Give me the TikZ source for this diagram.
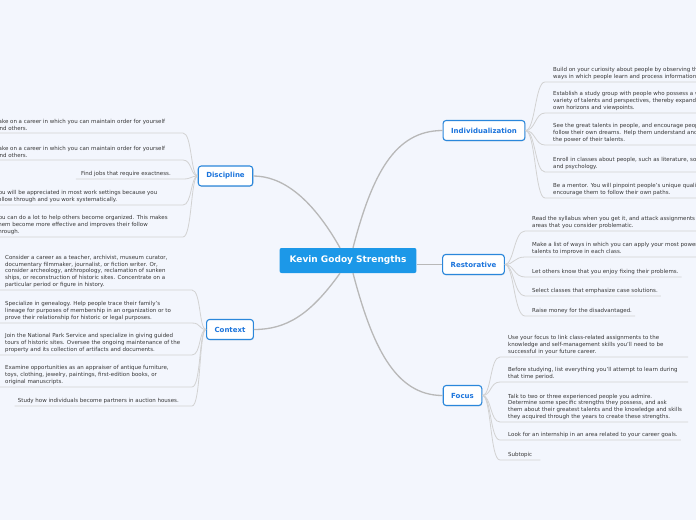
\documentclass[tikz,border=0pt]{standalone}
\usepackage{fontspec}
\setmainfont{DejaVu Sans}
\usetikzlibrary{shadows,calc}
\definecolor{bg}{HTML}{F3F6FD}
\definecolor{hub}{HTML}{1C98E8}
\definecolor{topicblue}{HTML}{2A87DB}
\definecolor{topictext}{HTML}{1B74DC}
\definecolor{subtext}{HTML}{383838}
\definecolor{mainline}{HTML}{B8B8B8}
\definecolor{subline}{HTML}{D2D2D2}
\tikzset{
 hubnode/.style={fill=hub, text=white, font=\fontsize{9}{11}\selectfont\bfseries, rounded corners=2pt, minimum height=25pt, inner xsep=10pt, inner ysep=0pt},
 topicnode/.style={draw=topicblue, line width=1.1pt, fill=white, text=topictext, font=\fontsize{7}{8}\selectfont\bfseries, rounded corners=3pt, minimum height=20pt, inner xsep=8pt, inner ysep=0pt, drop shadow={opacity=0.18, shadow xshift=0.6pt, shadow yshift=-0.8pt}},
 subnode/.style={inner sep=0pt, yshift=-1.5pt, text=subtext, align=left, font=\fontsize{5.5}{6.7}\selectfont},
 mainlink/.style={draw=mainline, line width=1.3pt},
 sublink/.style={draw=subline, line width=0.8pt},
}
\begin{document}
\begin{tikzpicture}[x=1pt,y=-1pt]
\path[use as bounding box, fill=bg] (0,0) rectangle (696,520);
\clip (0,0) rectangle (696,520);

% hub and topics
\node[hubnode] (H) at (348,260.5) {Kevin Godoy Strengths};
\node[topicnode] (I) at (484,130.5) {Individualization};
\node[topicnode] (D) at (225.5,176) {Discipline};
\node[topicnode] (R) at (473.5,264.5) {Restorative};
\node[topicnode] (C) at (230,329.5) {Context};
\node[topicnode] (F) at (462.5,395.5) {Focus};

\draw[mainlink] ([xshift=5pt]H.north) .. controls +(19,-73) and +(-48,0) .. (I.west);
\draw[mainlink] ([xshift=-8pt]H.north) .. controls +(-30,-53) and +(27,0) .. (D.east);
\draw[mainlink] (H.east |- R.west) -- (R.west);
\draw[mainlink] ([xshift=-8pt]H.south) .. controls +(-30,42) and +(32,0) .. (C.east);
\draw[mainlink] ([xshift=5pt]H.south) .. controls +(19,72) and +(-48,0) .. (F.west);

% Individualization
\node[subnode, anchor=south west] (i1) at (553,78) {Build on your curiosity about people by observing the\\ways in which people learn and process information.};
\node[subnode, anchor=south west] (i2) at (553,109) {Establish a study group with people who possess a wide\\variety of talents and perspectives, thereby expanding your\\own horizons and viewpoints.};
\node[subnode, anchor=south west] (i3) at (553,141) {See the great talents in people, and encourage people to\\follow their own dreams. Help them understand and appreciate\\the power of their talents.};
\node[subnode, anchor=south west] (i4) at (553,168) {Enroll in classes about people, such as literature, sociology,\\and psychology.};
\node[subnode, anchor=south west] (i5) at (553,194) {Be a mentor. You will pinpoint people's unique qualities and\\encourage them to follow their own paths.};
\foreach \n/\y in {i1/82,i2/113,i3/145,i4/172,i5/198}{
  \coordinate (\n a) at (545,\y);
  \coordinate (\n b) at (700,\y);
  \draw[sublink] (I.east) .. controls +(10,0) and +(-10,0) .. (\n a) -- (\n b);
}

% Restorative
\node[subnode, anchor=south west] (r1) at (532,227) {Read the syllabus when you get it, and attack assignments in\\areas that you consider problematic.};
\node[subnode, anchor=south west] (r2) at (532,253) {Make a list of ways in which you can apply your most powerful\\talents to improve in each class.};
\node[subnode, anchor=south west] (r3) at (532,273) {Let others know that you enjoy fixing their problems.};
\node[subnode, anchor=south west] (r4) at (532,292) {Select classes that emphasize case solutions.};
\node[subnode, anchor=south west] (r5) at (532,312) {Raise money for the disadvantaged.};
\coordinate (r1a) at (525,231); \coordinate (r1b) at (700,231);
\coordinate (r2a) at (525,257); \coordinate (r2b) at (700,257);
\coordinate (r3a) at (525,277); \coordinate (r3b) at ($(r3a -| r3.east)+(3,0)$);
\coordinate (r4a) at (525,296); \coordinate (r4b) at ($(r4a -| r4.east)+(3,0)$);
\coordinate (r5a) at (525,316); \coordinate (r5b) at ($(r5a -| r5.east)+(3,0)$);
\foreach \n in {r1,r2,r3,r4,r5}{
  \draw[sublink] (R.east) .. controls +(9,0) and +(-11,0) .. (\n a) -- (\n b);
}

% Focus
\node[subnode, anchor=south west] (f1) at (508,353) {Use your focus to link class-related assignments to the\\knowledge and self-management skills you'll need to be\\successful in your future career.};
\node[subnode, anchor=south west] (f2) at (508,378) {Before studying, list everything you'll attempt to learn during\\that time period.};
\node[subnode, anchor=south west] (f3) at (508,418) {Talk to two or three experienced people you admire.\\Determine some specific strengths they possess, and ask\\them about their greatest talents and the knowledge and skills\\they acquired through the years to create these strengths.};
\node[subnode, anchor=south west] (f4) at (508,436) {Look for an internship in an area related to your career goals.};
\node[subnode, anchor=south west] (f5) at (508,456) {Subtopic};
\coordinate (f1a) at (500,357); \coordinate (f1b) at (688,357);
\coordinate (f2a) at (500,382); \coordinate (f2b) at (688,382);
\coordinate (f3a) at (500,422); \coordinate (f3b) at (688,422);
\coordinate (f4a) at (500,440); \coordinate (f4b) at ($(f4a -| f4.east)+(3,0)$);
\coordinate (f5a) at (500,460); \coordinate (f5b) at ($(f5a -| f5.east)+(8,0)$);
\foreach \n in {f1,f2,f3,f4,f5}{
  \draw[sublink] (F.east) .. controls +(9,0) and +(-10,0) .. (\n a) -- (\n b);
}

% Discipline
\node[subnode, anchor=south west] (d1) at (-4,129) {Take on a career in which you can maintain order for yourself\\and others.};
\node[subnode, anchor=south west] (d2) at (-4,156) {Take on a career in which you can maintain order for yourself\\and others.};
\node[subnode, anchor=south east] (d3) at (171,175) {Find jobs that require exactness.};
\node[subnode, anchor=south west] (d4) at (-4,201) {You will be appreciated in most work settings because you\\follow through and you work systematically.};
\node[subnode, anchor=south west] (d5) at (-4,233) {You can do a lot to help others become organized. This makes\\them become more effective and improves their follow\\through.};
\coordinate (d1a) at (183,133); \coordinate (d1b) at (-10,133);
\coordinate (d2a) at (183,160); \coordinate (d2b) at (-10,160);
\coordinate (d3a) at (183,179); \coordinate (d3b) at ($(d3a -| d3.west)+(-5,0)$);
\coordinate (d4a) at (183,205); \coordinate (d4b) at (-10,205);
\coordinate (d5a) at (183,237); \coordinate (d5b) at (-10,237);
\foreach \n in {d1,d2,d3,d4,d5}{
  \draw[sublink] (D.west) .. controls +(-7,0) and +(9,0) .. (\n a) -- (\n b);
}

% Context
\node[subnode, anchor=south west] (c1) at (5,286) {Consider a career as a teacher, archivist, museum curator,\\documentary filmmaker, journalist, or fiction writer. Or,\\consider archeology, anthropology, reclamation of sunken\\ships, or reconstruction of historic sites. Concentrate on a\\particular period or figure in history.};
\node[subnode, anchor=south west] (c2) at (5,319) {Specialize in genealogy. Help people trace their family's\\lineage for purposes of membership in an organization or to\\prove their relationship for historic or legal purposes.};
\node[subnode, anchor=south west] (c3) at (5,351) {Join the National Park Service and specialize in giving guided\\tours of historic sites. Oversee the ongoing maintenance of the\\property and its collection of artifacts and documents.};
\node[subnode, anchor=south west] (c4) at (5,383) {Examine opportunities as an appraiser of antique furniture,\\toys, clothing, jewelry, paintings, first-edition books, or\\original manuscripts.};
\node[subnode, anchor=south east] (c5) at (179,402) {Study how individuals become partners in auction houses.};
\coordinate (c1a) at (192,290); \coordinate (c1b) at (0,290);
\coordinate (c2a) at (192,323); \coordinate (c2b) at (0,323);
\coordinate (c3a) at (192,355); \coordinate (c3b) at (0,355);
\coordinate (c4a) at (192,387); \coordinate (c4b) at (0,387);
\coordinate (c5a) at (192,406); \coordinate (c5b) at ($(c5a -| c5.west)+(-3,0)$);
\foreach \n in {c1,c2,c3,c4,c5}{
  \draw[sublink] (C.west) .. controls +(-7,0) and +(9,0) .. (\n a) -- (\n b);
}
\end{tikzpicture}
\end{document}
